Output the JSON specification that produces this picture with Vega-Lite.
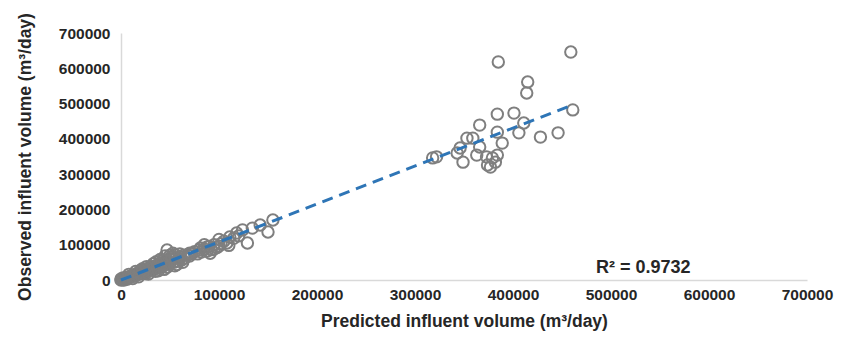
{
  "$schema": "https://vega.github.io/schema/vega-lite/v6.json",
  "width": 686,
  "height": 247,
  "autosize": {"type": "none"},
  "padding": {"left": 121, "top": 33, "right": 41, "bottom": 60},
  "background": "white",
  "config": {"view": {"stroke": null}, "font": "Liberation Sans", "axis": {"labelOverlap": false}},
  "datasets": {
    "pts": [
      {"p":0,"o":0},{"p":1000,"o":2000},{"p":2000,"o":1000},{"p":3000,"o":4000},{"p":4000,"o":3000},{"p":3000,"o":0},{"p":0,"o":3000},{"p":6000,"o":2000},{"p":2000,"o":6000},
      {"p":5000,"o":6000},{"p":6000,"o":5000},{"p":7000,"o":8000},{"p":8000,"o":6000},{"p":9000,"o":10000},{"p":10000,"o":9000},
      {"p":11000,"o":12000},{"p":12000,"o":10000},{"p":13000,"o":15000},{"p":14000,"o":13000},{"p":15000,"o":16000},{"p":16000,"o":14000},
      {"p":17000,"o":19000},{"p":18000,"o":17000},{"p":19000,"o":21000},{"p":20000,"o":18000},{"p":21000,"o":24000},{"p":22000,"o":20000},
      {"p":23000,"o":26000},{"p":24000,"o":22000},{"p":25000,"o":28000},{"p":26000,"o":24000},{"p":27000,"o":30000},{"p":28000,"o":26000},
      {"p":29000,"o":33000},{"p":30000,"o":28000},{"p":31000,"o":35000},{"p":32000,"o":30000},{"p":33000,"o":38000},{"p":34000,"o":31000},
      {"p":35000,"o":40000},{"p":36000,"o":33000},{"p":37000,"o":42000},{"p":38000,"o":35000},{"p":39000,"o":45000},{"p":40000,"o":37000},
      {"p":41000,"o":47000},{"p":42000,"o":39000},{"p":43000,"o":50000},{"p":44000,"o":41000},{"p":45000,"o":52000},{"p":46000,"o":44000},
      {"p":47000,"o":55000},{"p":48000,"o":46000},{"p":49000,"o":60000},{"p":50000,"o":48000},{"p":52000,"o":58000},{"p":54000,"o":50000},
      {"p":56000,"o":62000},{"p":58000,"o":53000},{"p":60000,"o":66000},{"p":62000,"o":57000},{"p":64000,"o":70000},{"p":45000,"o":68000},
      {"p":40000,"o":58000},{"p":35000,"o":25000},{"p":30000,"o":38000},{"p":25000,"o":18000},{"p":20000,"o":28000},{"p":50000,"o":70000},
      {"p":8000,"o":16000},{"p":12000,"o":4000},{"p":15000,"o":24000},{"p":18000,"o":9000},{"p":22000,"o":32000},{"p":28000,"o":17000},
      {"p":33000,"o":46000},{"p":38000,"o":26000},{"p":42000,"o":55000},{"p":47000,"o":36000},{"p":52000,"o":66000},{"p":57000,"o":44000},
      {"p":60000,"o":74000},{"p":63000,"o":50000},{"p":36000,"o":52000},{"p":26000,"o":38000},{"p":44000,"o":30000},{"p":55000,"o":40000},
      {"p":55000,"o":72000},{"p":60000,"o":60000},{"p":65000,"o":62000},{"p":68000,"o":72000},{"p":70000,"o":68000},{"p":72000,"o":75000},
      {"p":75000,"o":80000},{"p":78000,"o":74000},{"p":80000,"o":85000},{"p":82000,"o":79000},{"p":85000,"o":88000},{"p":88000,"o":82000},
      {"p":90000,"o":95000},{"p":92000,"o":86000},{"p":95000,"o":100000},{"p":98000,"o":92000},{"p":100000,"o":96000},{"p":102000,"o":103000},
      {"p":105000,"o":110000},{"p":108000,"o":105000},{"p":111000,"o":122000},{"p":118000,"o":133000},{"p":124000,"o":142000},{"p":129000,"o":105000},
      {"p":134000,"o":147000},{"p":142000,"o":156000},{"p":150000,"o":136000},{"p":155000,"o":170000},{"p":88000,"o":94000},{"p":91000,"o":76000},
      {"p":81000,"o":91000},{"p":70000,"o":76000},{"p":53000,"o":76000},{"p":47000,"o":85000},{"p":85000,"o":100000},{"p":95000,"o":88000},
      {"p":100000,"o":115000},{"p":110000,"o":98000},{"p":115000,"o":118000},{"p":120000,"o":125000},
      {"p":459000,"o":646000},{"p":385000,"o":618000},{"p":415000,"o":561000},{"p":414000,"o":530000},{"p":461000,"o":482000},
      {"p":384000,"o":470000},{"p":401000,"o":473000},{"p":411000,"o":445000},{"p":366000,"o":439000},{"p":384000,"o":419000},
      {"p":406000,"o":417000},{"p":428000,"o":405000},{"p":446000,"o":417000},{"p":389000,"o":388000},{"p":353000,"o":402000},
      {"p":359000,"o":402000},{"p":346000,"o":374000},{"p":366000,"o":377000},{"p":318000,"o":346000},{"p":322000,"o":349000},
      {"p":343000,"o":360000},{"p":349000,"o":334000},{"p":373000,"o":349000},{"p":379000,"o":346000},{"p":384000,"o":354000},
      {"p":374000,"o":326000},{"p":382000,"o":334000},{"p":377000,"o":320000},{"p":363000,"o":354000}
    ],
    "trend": [{"p":0,"o":0},{"p":458000,"o":493000}],
    "label": [{"p":533000,"o":34000,"t":"R² = 0.9732"}]
  },
  "encoding": {
    "x": {"field": "p", "type": "quantitative", "scale": {"domain": [0, 700000], "nice": false},
      "axis": {"title": "Predicted influent volume (m³/day)", "values": [0,100000,200000,300000,400000,500000,600000,700000], "format": "d",
        "grid": false, "ticks": false, "domainColor": "#d9d9d9", "domainWidth": 1.5, "labelFont": "Liberation Sans", "labelFontWeight": "bold", "labelFontSize": 15.5, "labelColor": "#262626", "labelPadding": 7, "labelFlush": false, "labelOverlap": false,
        "titleFont": "Liberation Sans", "titleFontSize": 17.5, "titleFontWeight": "bold", "titleColor": "#262626", "titlePadding": 10}},
    "y": {"field": "o", "type": "quantitative", "scale": {"domain": [0, 700000], "nice": false},
      "axis": {"title": "Observed influent volume (m³/day)", "values": [0,100000,200000,300000,400000,500000,600000,700000], "format": "d",
        "grid": false, "ticks": false, "domainColor": "#d9d9d9", "domainWidth": 1.5, "labelFont": "Liberation Sans", "labelFontWeight": "bold", "labelFontSize": 15.5, "labelColor": "#262626", "labelPadding": 11, "labelFlush": false, "labelOverlap": false,
        "titleFont": "Liberation Sans", "titleFontSize": 17.5, "titleFontWeight": "bold", "titleColor": "#262626", "titlePadding": 24}}
  },
  "layer": [
    {
      "data": {"name": "pts"},
      "mark": {"type": "point", "shape": "circle", "filled": false, "size": 130, "stroke": "#7f7f7f", "strokeWidth": 2, "opacity": 1}
    },
    {
      "data": {"name": "trend"},
      "mark": {"type": "line", "stroke": "#2E75B6", "strokeWidth": 3, "strokeDash": [11, 7]}
    },
    {
      "data": {"name": "label"},
      "mark": {"type": "text", "font": "Liberation Sans", "fontSize": 18, "fontWeight": "bold", "color": "#262626", "align": "center", "baseline": "middle"},
      "encoding": {"text": {"field": "t"}}
    }
  ]
}
